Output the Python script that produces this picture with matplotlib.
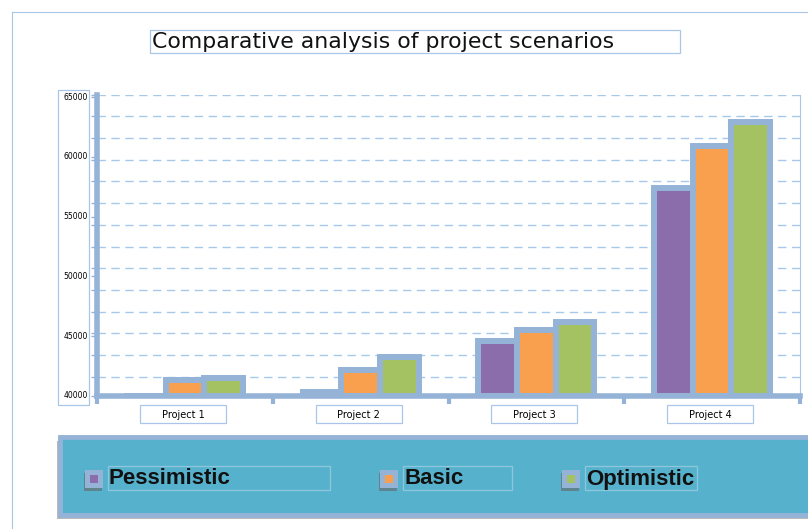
import numpy as np
import matplotlib
matplotlib.use("Agg")
import matplotlib.pyplot as plt
from matplotlib.patches import Rectangle
import matplotlib.patheffects as pe

# data
projects = ["Project 1", "Project 2", "Project 3", "Project 4"]
series = ["Pessimistic", "Basic", "Optimistic"]
pessimistic = [39800, 40300, 44600, 57400]
basic = [41350, 42200, 45500, 60900]
optimistic = [41500, 43250, 46200, 62900]
y_ticks = [40000, 45000, 50000, 55000, 60000, 65000]

colors = ["#8a6daa", "#f8a04e", "#a5c263"]
frame = "#95b3d7"
W, H = 808, 529


def fx(x):
    return x / W


def fy(y):
    return 1 - y / H


fig = plt.figure(figsize=(W / 100, H / 100), dpi=100)

# outer thin border
fig.add_artist(plt.Line2D([fx(12), fx(808)], [fy(12), fy(12)], color="#a9c6e8", lw=0.8))
fig.add_artist(plt.Line2D([fx(12), fx(12)], [fy(12), fy(529)], color="#a9c6e8", lw=0.8))

# title in its box
fig.add_artist(Rectangle((fx(150), fy(53)), fx(530), 23 / H, transform=fig.transFigure,
                         fill=False, ec="#a9c6e8", lw=0.9))
fig.text(fx(152), fy(42), "Comparative analysis of project scenarios",
         fontsize=15.8, family="DejaVu Sans", va="center", ha="left", color="#111111")

# plot area
ymin, ymax = 40000, 65200
px_per = 299 / 25000
top_px = 396 - (ymax - ymin) * px_per
ax = fig.add_axes([fx(97), fy(396), fx(800 - 97), (396 - top_px) / H])
ax.set_xlim(0, 4)
ax.set_ylim(ymin, ymax)

for g in np.arange(41600, ymax, 1815):
    ax.axhline(g, color="#a6c8ea", lw=1.0, ls=(0, (6, 4)), zorder=0)

x = np.arange(len(projects)) + 0.5
step = 0.22
for i, vals in enumerate([pessimistic, basic, optimistic]):
    pos = x + (i - 1) * step
    ax.bar(pos, np.array(vals) - ymin, width=step, bottom=ymin, color=colors[i],
           edgecolor=frame, linewidth=4.3, zorder=3,
           path_effects=[pe.SimplePatchShadow(offset=(2, -2), shadow_rgbFace="#999999", alpha=0.4),
                         pe.Normal()])

ax.spines["top"].set_visible(False)
ax.spines["right"].set_color("#a9c6e8")
ax.spines["right"].set_linewidth(0.8)
ax.spines["left"].set_color(frame)
ax.spines["left"].set_linewidth(4)
ax.spines["bottom"].set_color(frame)
ax.spines["bottom"].set_linewidth(4)
ax.spines["bottom"].set_zorder(5)

ax.set_xticks([0, 1, 2, 3, 4])
ax.set_xticklabels([])
ax.tick_params(axis="x", length=6, width=3, color=frame, direction="out")
ax.set_yticks(y_ticks)
ax.set_yticklabels([])
ax.set_yticks(np.arange(41600, ymax, 1815), minor=True)
ax.tick_params(axis="y", which="major", length=4, width=1, color=frame)
ax.tick_params(axis="y", which="minor", length=4, width=1, color=frame)

# y tick labels inside a box
fig.add_artist(Rectangle((fx(58), fy(405)), fx(31), 315 / H, transform=fig.transFigure,
                         fill=False, ec="#a9c6e8", lw=0.9))
for t in y_ticks:
    yp = 396 - (t - ymin) * px_per
    fig.text(fx(88), fy(yp), f"{t}", fontsize=5.5, ha="right", va="center",
             family="DejaVu Sans Condensed")

# category labels in boxes
for i, name in enumerate(projects):
    cx = 97 + (i + 0.5) * (703 / 4) - 2
    fig.add_artist(Rectangle((fx(cx - 43), fy(423)), fx(86), 18 / H, transform=fig.transFigure,
                             fill=True, fc="white", ec="#a9c6e8", lw=0.9))
    fig.text(fx(cx), fy(414.5), name, fontsize=7, ha="center", va="center",
             family="DejaVu Sans Condensed")

# legend panel
leg = Rectangle((fx(60), fy(515)), fx(760), 78 / H, transform=fig.transFigure,
                fc="#56b2cc", ec=frame, lw=3.5,
                path_effects=[pe.SimplePatchShadow(offset=(-2, -3), shadow_rgbFace="#777777", alpha=0.5),
                              pe.Normal()])
fig.add_artist(leg)
entries = [(85, 108, 330), (380, 403, 512), (562, 585, 697)]
for (mx, tx, tend), name, c in zip(entries, series, colors):
    fig.add_artist(Rectangle((fx(mx), fy(488)), fx(18), 18 / H, transform=fig.transFigure,
                             fc=frame, ec="none",
                             path_effects=[pe.SimplePatchShadow(offset=(-1, -2), shadow_rgbFace="#666666", alpha=0.6),
                                           pe.Normal()]))
    fig.add_artist(Rectangle((fx(mx + 5), fy(483)), fx(8), 8 / H, transform=fig.transFigure,
                             fc=c, ec="none"))
    fig.add_artist(Rectangle((fx(tx), fy(490)), fx(tend - tx), 24 / H, transform=fig.transFigure,
                             fill=False, ec="#8fc6dc", lw=0.9))
    fig.text(fx(tx + 1), fy(479), name, fontsize=16, fontweight="bold",
             family="Liberation Sans", ha="left", va="center", color="#111111")

fig.savefig("out.png", dpi=100)
